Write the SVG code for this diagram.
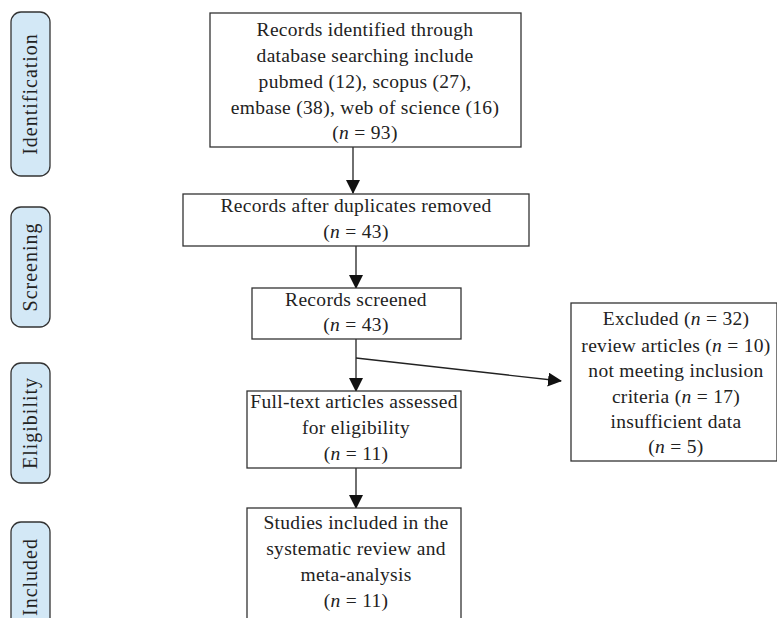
<svg xmlns="http://www.w3.org/2000/svg" width="777" height="618" viewBox="0 0 777 618">
<defs>
<style>
.box{fill:#fff;stroke:#333;stroke-width:1.3}
.side{fill:#d3e8f6;stroke:#333;stroke-width:1.3}
.t{font-family:"Liberation Serif","Times New Roman",serif;font-size:19.5px;letter-spacing:0.3px;fill:#222;text-anchor:middle}
.s{font-family:"Liberation Serif","Times New Roman",serif;font-size:20px;letter-spacing:1px;fill:#222;text-anchor:middle}
.i{font-style:italic}
.c{stroke:#222;stroke-width:1.3;fill:none}
</style>
<marker id="ah" markerUnits="userSpaceOnUse" markerWidth="14" markerHeight="14" viewBox="0 0 14 14" refX="13" refY="7" orient="auto">
<path d="M0,0 L14,7 L0,14 Z" fill="#111"/>
</marker>
</defs>
<rect width="777" height="618" fill="#fff"/>

<g id="stage-identification">
<rect class="side" x="11" y="12" width="39" height="164" rx="10"/>
<text class="s" transform="translate(37,94) rotate(-90)">Identification</text>
</g>
<g id="stage-screening">
<rect class="side" x="11" y="207" width="39" height="120" rx="10"/>
<text class="s" transform="translate(37,267) rotate(-90)">Screening</text>
</g>
<g id="stage-eligibility">
<rect class="side" x="11" y="363" width="39" height="120" rx="10"/>
<text class="s" transform="translate(37,423) rotate(-90)">Eligibility</text>
</g>
<g id="stage-included">
<rect class="side" x="11" y="522" width="39" height="110" rx="10"/>
<text class="s" transform="translate(37,577) rotate(-90)">Included</text>
</g>

<g id="connectors">
<line class="c" x1="353" y1="147" x2="353" y2="193" marker-end="url(#ah)"/>
<line class="c" x1="356" y1="246" x2="356" y2="288" marker-end="url(#ah)"/>
<line class="c" x1="356" y1="339" x2="356" y2="391" marker-end="url(#ah)"/>
<line class="c" x1="356" y1="358" x2="561" y2="381" marker-end="url(#ah)"/>
<line class="c" x1="356" y1="468" x2="356" y2="508" marker-end="url(#ah)"/>
</g>

<g id="identified">
<rect class="box" x="210" y="13" width="311" height="134"/>
<text class="t" x="365" y="36">Records identified through</text>
<text class="t" x="365" y="62">database searching include</text>
<text class="t" x="365" y="88">pubmed (12), scopus (27),</text>
<text class="t" x="365" y="114">embase (38), web of science (16)</text>
<text class="t" x="365" y="139">(<tspan class="i">n</tspan> = 93)</text>
</g>

<g id="deduplicated">
<rect class="box" x="183" y="194" width="346" height="52"/>
<text class="t" x="356" y="212">Records after duplicates removed</text>
<text class="t" x="356" y="238">(<tspan class="i">n</tspan> = 43)</text>
</g>

<g id="screened">
<rect class="box" x="252" y="288" width="209" height="51"/>
<text class="t" x="356" y="306">Records screened</text>
<text class="t" x="356" y="331">(<tspan class="i">n</tspan> = 43)</text>
</g>

<g id="excluded">
<rect class="box" x="571" y="303" width="206" height="158"/>
<text class="t" x="676" y="325">Excluded (<tspan class="i">n</tspan> = 32)</text>
<text class="t" x="676" y="352">review articles (<tspan class="i">n</tspan> = 10)</text>
<text class="t" x="676" y="377">not meeting inclusion</text>
<text class="t" x="676" y="403">criteria (<tspan class="i">n</tspan> = 17)</text>
<text class="t" x="676" y="428">insufficient data</text>
<text class="t" x="676" y="453">(<tspan class="i">n</tspan> = 5)</text>
</g>

<g id="eligibility">
<rect class="box" x="247" y="391" width="214" height="77"/>
<text class="t" x="354" y="408">Full-text articles assessed</text>
<text class="t" x="356" y="434">for eligibility</text>
<text class="t" x="356" y="460">(<tspan class="i">n</tspan> = 11)</text>
</g>

<g id="included">
<rect class="box" x="247" y="508" width="214" height="120"/>
<text class="t" x="356" y="529">Studies included in the</text>
<text class="t" x="356" y="555">systematic review and</text>
<text class="t" x="356" y="581">meta-analysis</text>
<text class="t" x="356" y="607">(<tspan class="i">n</tspan> = 11)</text>
</g>
</svg>
